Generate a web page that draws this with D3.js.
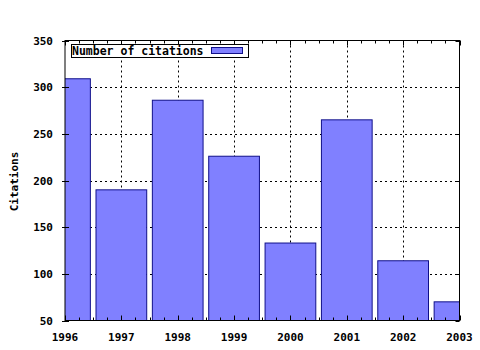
<!DOCTYPE html>
<html>
<head>
<meta charset="utf-8">
<script src="https://cdn.jsdelivr.net/npm/d3@7"></script>
<style>
body { margin: 0; background: #fff; }
text { font-family: "DejaVu Sans Mono", monospace; font-weight: bold; font-size: 11px; fill: #000; }
</style>
</head>
<body>
<svg width="480" height="350"></svg>
<script>
// data
var years = [1996, 1997, 1998, 1999, 2000, 2001, 2002, 2003];
var citations = [309, 190, 286, 226, 133, 265, 114, 70];
var yTicks = [50, 100, 150, 200, 250, 300, 350];
var seriesName = 'Number of citations';

var pL = 65, pR = 459.5, pT = 40.5, pB = 320.5;
var svg = d3.select('svg');

var x = d3.scaleLinear().domain([1996, 2003]).range([pL, pR]);
var y = d3.scaleLinear().domain([50, 350]).range([pB, pT]);

var clip = svg.append('clipPath').attr('id', 'plot');
clip.append('rect').attr('x', pL).attr('y', pT).attr('width', pR - pL).attr('height', pB - pT);

// grid
var grid = svg.append('g').attr('stroke', '#000').attr('stroke-width', 1).attr('stroke-dasharray', '2,3');
grid.selectAll('.gx').data(years.slice(1, -1)).enter().append('line')
    .attr('x1', d => Math.round(x(d)) + 0.5).attr('x2', d => Math.round(x(d)) + 0.5)
    .attr('y1', pT).attr('y2', pB);
grid.selectAll('.gy').data(yTicks.slice(1, -1)).enter().append('line')
    .attr('y1', d => Math.round(y(d)) + 0.5).attr('y2', d => Math.round(y(d)) + 0.5)
    .attr('x1', pL).attr('x2', pR);

// bars
var bw = 0.9;
svg.append('g').attr('clip-path', 'url(#plot)')
    .selectAll('rect').data(years).enter().append('rect')
    .attr('x', d => x(d - bw / 2))
    .attr('width', d => x(d + bw / 2) - x(d - bw / 2))
    .attr('y', (d, i) => y(citations[i]))
    .attr('height', (d, i) => pB - y(citations[i]))
    .attr('fill', '#8080ff').attr('stroke', '#10108a').attr('stroke-width', 1);

// ticks
var ticks = svg.append('g').attr('stroke', '#000').attr('stroke-width', 1);
var minor = d3.range(1996, 2003.01, 0.25);
minor.forEach(function (d) {
    var px = Math.round(x(d)) + 0.5;
    var len = (Math.abs(d - Math.round(d)) < 0.01) ? 5 : 3;
    ticks.append('line').attr('x1', px).attr('x2', px).attr('y1', pB).attr('y2', pB - len);
    ticks.append('line').attr('x1', px).attr('x2', px).attr('y1', pT).attr('y2', pT + len);
});
yTicks.forEach(function (d) {
    var py = Math.round(y(d)) + 0.5;
    ticks.append('line').attr('x1', pL - 3).attr('x2', pL + 4).attr('y1', py).attr('y2', py);
    ticks.append('line').attr('x1', pR - 4).attr('x2', pR).attr('y1', py).attr('y2', py);
});

// border
svg.append('rect').attr('x', pL).attr('y', pT).attr('width', pR - pL).attr('height', pB - pT)
    .attr('fill', 'none').attr('stroke', '#000').attr('stroke-width', 1);

// labels
svg.selectAll('.yl').data(yTicks).enter().append('text')
    .attr('x', pL - 12).attr('y', d => y(d) + 4).attr('text-anchor', 'end').text(d => d);
svg.selectAll('.xl').data(years).enter().append('text')
    .attr('x', d => x(d)).attr('y', pB + 20.5).attr('text-anchor', 'middle').text(d => d);

svg.append('text').attr('transform', 'translate(18,' + ((pT + pB) / 2 + 1) + ') rotate(-90)')
    .attr('text-anchor', 'middle').text('Citations');

// legend
svg.append('rect').attr('x', 71.5).attr('y', 44.5).attr('width', 177).attr('height', 13)
    .attr('fill', '#fff').attr('stroke', '#000').attr('stroke-width', 1);
svg.append('text').attr('x', 72).attr('y', 55).style('font-size', '11.5px').text(seriesName);
svg.append('rect').attr('x', 211.5).attr('y', 47.5).attr('width', 31).attr('height', 6)
    .attr('fill', '#8080ff').attr('stroke', '#10108a').attr('stroke-width', 1);
</script>
</body>
</html>
